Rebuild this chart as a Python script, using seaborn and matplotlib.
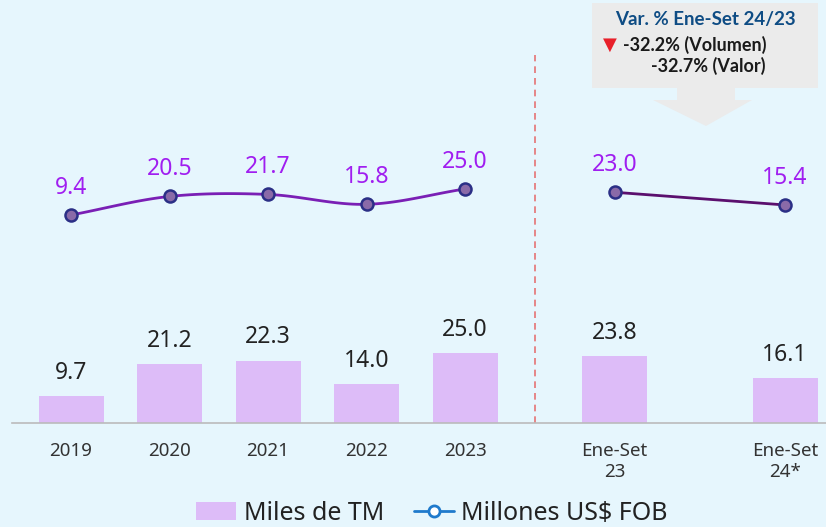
import numpy as np
import pandas as pd
import matplotlib.pyplot as plt
import seaborn as sns
from matplotlib.lines import Line2D
from matplotlib.patches import Patch, Polygon, Rectangle

# datos
periodos = ["2019", "2020", "2021", "2022", "2023", "Ene-Set\n23", "Ene-Set\n24*"]
posiciones = [0, 1, 2, 3, 4, 5.52, 7.25]
volumen = [9.7, 21.2, 22.3, 14.0, 25.0, 23.8, 16.1]   # Miles de TM
valor = [9.4, 20.5, 21.7, 15.8, 25.0, 23.0, 15.4]     # Millones US$ FOB

fondo = "#E6F6FD"
color_barra = "#DDBCF8"
color_etq_linea = "#A01EF0"

sns.set_theme(style="white")
plt.rcParams['font.family'] = ['Noto Sans', 'DejaVu Sans']

fig = plt.figure(figsize=(8.26, 5.27), dpi=100)
fig.patch.set_facecolor(fondo)
ax = fig.add_axes([0, 104 / 527, 1, 423 / 527])
ax.set_facecolor(fondo)

df = pd.DataFrame({"x": posiciones, "vol": volumen})
sns.barplot(data=df, x="x", y="vol", native_scale=True, width=0.66,
            color=color_barra, saturation=1, linewidth=0, ax=ax)
ax.set_xlim(-0.721, 7.665)
ax.set_ylim(0, 151)

for x, v in zip(posiciones, volumen):
    ax.annotate(f"{v:.1f}", (x, v), xytext=(0, 8), textcoords="offset points",
                ha="center", va="bottom", fontsize=16.5, color="#222222")

ax.set_xticks(posiciones)
ax.set_xticklabels(periodos, fontsize=13.5, color="#333333", linespacing=1.15)
ax.tick_params(axis="x", length=0, pad=14)
ax.set_yticks([])
ax.set_xlabel("")
ax.set_ylabel("")
for s in ["top", "left", "right"]:
    ax.spines[s].set_visible(False)
ax.spines["bottom"].set_color("#BBBBBB")
ax.spines["bottom"].set_linewidth(1.2)
ax.spines["bottom"].set_bounds(-0.6, 7.665)

# linea divisoria
ax.axvline(4.71, ymin=0, ymax=0.87, color="#E57373", linestyle=(0, (4, 3)), linewidth=1.2)

# eje de valor
ax2 = ax.twinx()
ax2.set_ylim(-115, 138)
ax2.set_xlim(-0.721, 7.665)

# curva suave (Catmull-Rom) para 2019-2023
px = np.array(posiciones[:5], dtype=float)
py = np.array(valor[:5], dtype=float)
P = np.column_stack([px, py])
P = np.vstack([P[0] - (P[1] - P[0]), P, P[-1] + (P[-1] - P[-2])])
curva = []
for i in range(1, len(P) - 2):
    p0, p1, p2, p3 = P[i - 1], P[i], P[i + 1], P[i + 2]
    for t in np.linspace(0, 1, 30):
        c = 0.5 * ((2 * p1) + (-p0 + p2) * t + (2 * p0 - 5 * p1 + 4 * p2 - p3) * t ** 2
                   + (-p0 + 3 * p1 - 3 * p2 + p3) * t ** 3)
        curva.append(c)
curva = np.array(curva)
ax2.plot(curva[:, 0], curva[:, 1], color="#7A1FB5", linewidth=2, zorder=3)
ax2.plot(posiciones[5:], valor[5:], color="#5B0F6E", linewidth=2, zorder=3)
sns.scatterplot(x=posiciones, y=valor, ax=ax2, s=75, color="#8A6AA8",
                edgecolor="#2B2F86", linewidth=1.8, zorder=4, legend=False)
ax2.axis("off")

for x, v in zip(posiciones, valor):
    ax2.annotate(f"{v:.1f}", (x, v), xytext=(0, 11), textcoords="offset points",
                 ha="center", va="bottom", fontsize=16.5, color=color_etq_linea)

# recuadro de variacion
W, H = 826, 527
def fx(p):
    return p / W
def fy(p):
    return 1 - p / H

fig.patches.append(Rectangle((fx(592), fy(88)), fx(818) - fx(592), fy(3) - fy(88),
                             transform=fig.transFigure, facecolor="#EBEBEB",
                             edgecolor="none", zorder=5))
flecha = [(677, 88), (735, 88), (735, 100), (752, 100), (706, 126),
          (653, 100), (677, 100)]
fig.patches.append(Polygon([(fx(a), fy(b)) for a, b in flecha], closed=True,
                           transform=fig.transFigure, facecolor="#EBEBEB",
                           edgecolor="none", zorder=5))
negrita = ['Lato', 'DejaVu Sans']
fig.text(fx(705), fy(20), "Var. % Ene-Set 24/23", ha="center", va="center",
         fontsize=13.5, fontweight="bold", color="#0E4C84", family=negrita, zorder=6)
fig.text(fx(603), fy(45), "▼", ha="left", va="center", fontsize=13,
         color="#E8202A", family="DejaVu Sans", zorder=6)
fig.text(fx(623), fy(45), "-32.2% (Volumen)", ha="left", va="center",
         fontsize=13, fontweight="bold", color="#1A1A1A", family=negrita, zorder=6)
fig.text(fx(708), fy(66), "-32.7% (Valor)", ha="center", va="center",
         fontsize=13, fontweight="bold", color="#1A1A1A", family=negrita, zorder=6)

# leyenda
handles = [Patch(facecolor=color_barra, edgecolor="none", label="Miles de TM"),
           Line2D([0], [0], color="#1F7ACC", linewidth=2, marker="o",
                  markerfacecolor="white", markeredgecolor="#1F7ACC",
                  markersize=8, markeredgewidth=2, label="Millones US$ FOB")]
fig.legend(handles=handles, loc="center", bbox_to_anchor=(fx(432), fy(513)),
           ncol=2, frameon=False, fontsize=18, handlelength=1.6,
           handletextpad=0.3, columnspacing=1.2, labelcolor="#222222")

fig.savefig("out.png", dpi=100, facecolor=fondo)
